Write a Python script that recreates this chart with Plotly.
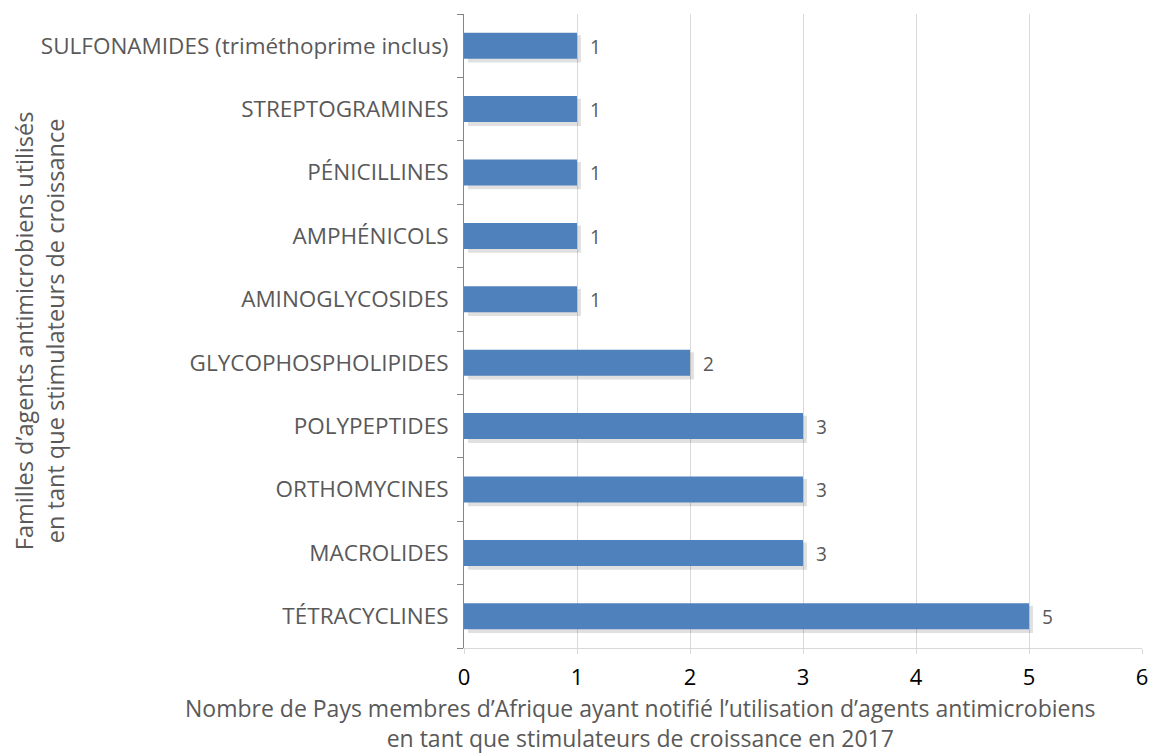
import plotly.graph_objects as go

categories = ["TÉTRACYCLINES", "MACROLIDES", "ORTHOMYCINES", "POLYPEPTIDES",
              "GLYCOPHOSPHOLIPIDES", "AMINOGLYCOSIDES", "AMPHÉNICOLS",
              "PÉNICILLINES", "STREPTOGRAMINES", "SULFONAMIDES (triméthoprime inclus)"]
values = [5, 3, 3, 3, 2, 1, 1, 1, 1, 1]
x_ticks = [0, 1, 2, 3, 4, 5, 6]

FONT = "Open Sans, sans-serif"
SHADOW_SHIFT = 0.035

fig = go.Figure()
# soft shadow (offset right/down)
fig.add_trace(go.Bar(
    y=categories, x=values, orientation="h", base=SHADOW_SHIFT,
    marker=dict(color="rgba(0,0,0,0.12)", line=dict(width=0)),
    width=0.43, offset=-0.265, hoverinfo="skip", showlegend=False,
))
fig.add_trace(go.Bar(
    y=categories, x=values, orientation="h",
    marker=dict(color="#4f81bd", line=dict(width=0)),
    width=0.41, offset=-0.205,
    text=["  " + str(v) for v in values], textposition="outside",
    textfont=dict(size=22, color="#595959", family=FONT),
    cliponaxis=False, showlegend=False,
))

fig.update_layout(
    width=1153, height=754,
    margin=dict(l=464, r=11, t=14, b=106),
    paper_bgcolor="white", plot_bgcolor="white",
    barmode="overlay",
    font=dict(family=FONT, color="#595959"),
    xaxis=dict(range=[0, 6], tickvals=x_ticks, showgrid=True, gridcolor="#d9d9d9",
               gridwidth=1, zeroline=False, showline=True, linecolor="#d9d9d9",
               automargin=False, ticks="outside", ticklen=5, tickcolor="#d9d9d9",
               tickfont=dict(size=22, color="#000000", family=FONT),
               ticklabelstandoff=5),
    yaxis=dict(categoryorder="array", categoryarray=categories, showline=True,
               linecolor="#868686", linewidth=1, ticks="outside", tickson="boundaries",
               ticklen=6, tickcolor="#868686", showgrid=False, automargin=False,
               tickfont=dict(size=22.5, color="#595959", family=FONT),
               ticklabelstandoff=10),
    annotations=[
        dict(text="Nombre de Pays membres d’Afrique ayant notifié l’utilisation d’agents antimicrobiens<br>en tant que stimulateurs de croissance en 2017",
             xref="paper", yref="paper", x=0.26, y=-0.066, xanchor="center", yanchor="top",
             showarrow=False, font=dict(size=23, color="#595959", family=FONT)),
        dict(text="Familles d’agents antimicrobiens utilisés<br>en tant que stimulateurs de croissance",
             xref="paper", yref="paper", x=-0.676, y=0.5, xanchor="left", yanchor="middle",
             textangle=-90, showarrow=False, font=dict(size=23.5, color="#595959", family=FONT)),
    ],
)

fig.write_html("out.html", config={"displayModeBar": False},
               post_script="document.body.style.margin='0';")
